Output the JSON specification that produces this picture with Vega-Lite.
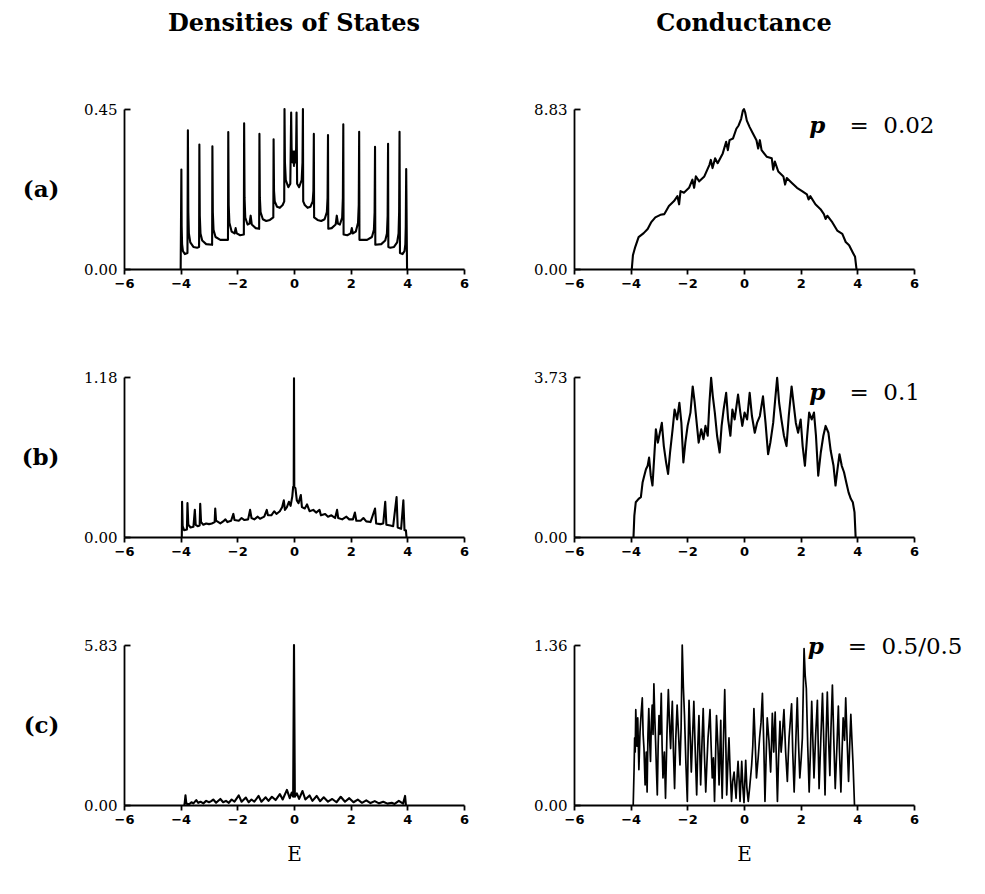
{
  "$schema": "https://vega.github.io/schema/vega-lite/v6.json",
  "background": "white",
  "padding": {"left": 21, "top": 12, "right": 5, "bottom": 5},
  "columns": 2,
  "spacing": {"row": 108, "column": 110},
  "bounds": "flush",
  "datasets": {
    "dosA": [
      {"E":-4.0,"v":0},{"E":-3.975,"v":0.28},{"E":-3.965,"v":0.12},{"E":-3.95,"v":0.07},{"E":-3.92,"v":0.05},{"E":-3.85,"v":0.042},{"E":-3.76,"v":0.045},
      {"E":-3.745,"v":0.39},{"E":-3.73,"v":0.16},{"E":-3.71,"v":0.1},{"E":-3.66,"v":0.075},{"E":-3.55,"v":0.062},{"E":-3.42,"v":0.06},{"E":-3.35,"v":0.062},
      {"E":-3.34,"v":0.35},{"E":-3.325,"v":0.15},{"E":-3.3,"v":0.1},{"E":-3.24,"v":0.08},{"E":-3.1,"v":0.07},{"E":-2.89,"v":0.068},
      {"E":-2.88,"v":0.345},{"E":-2.865,"v":0.16},{"E":-2.84,"v":0.11},{"E":-2.77,"v":0.09},{"E":-2.6,"v":0.082},{"E":-2.33,"v":0.082},
      {"E":-2.32,"v":0.385},{"E":-2.305,"v":0.18},{"E":-2.28,"v":0.13},{"E":-2.2,"v":0.105},{"E":-2.1,"v":0.1},{"E":-2.06,"v":0.115},{"E":-2.02,"v":0.1},{"E":-1.9,"v":0.095},{"E":-1.77,"v":0.097},
      {"E":-1.76,"v":0.41},{"E":-1.745,"v":0.2},{"E":-1.72,"v":0.145},{"E":-1.64,"v":0.125},{"E":-1.57,"v":0.128},{"E":-1.53,"v":0.15},{"E":-1.49,"v":0.125},{"E":-1.35,"v":0.115},{"E":-1.23,"v":0.113},
      {"E":-1.22,"v":0.38},{"E":-1.205,"v":0.2},{"E":-1.18,"v":0.16},{"E":-1.1,"v":0.14},{"E":-0.98,"v":0.135},{"E":-0.85,"v":0.138},{"E":-0.73,"v":0.145},
      {"E":-0.72,"v":0.365},{"E":-0.705,"v":0.22},{"E":-0.68,"v":0.19},{"E":-0.6,"v":0.175},{"E":-0.5,"v":0.172},{"E":-0.4,"v":0.18},{"E":-0.345,"v":0.19},
      {"E":-0.335,"v":0.45},{"E":-0.32,"v":0.3},{"E":-0.29,"v":0.25},{"E":-0.2,"v":0.23},{"E":-0.13,"v":0.24},
      {"E":-0.1,"v":0.44},{"E":-0.085,"v":0.34},{"E":-0.05,"v":0.3},{"E":-0.02,"v":0.33},{"E":0.0,"v":0.29},{"E":0.02,"v":0.33},{"E":0.05,"v":0.3},{"E":0.075,"v":0.34},
      {"E":0.09,"v":0.44},{"E":0.11,"v":0.24},{"E":0.18,"v":0.23},{"E":0.27,"v":0.25},{"E":0.3,"v":0.3},
      {"E":0.315,"v":0.45},{"E":0.325,"v":0.19},{"E":0.38,"v":0.18},{"E":0.48,"v":0.172},{"E":0.58,"v":0.175},{"E":0.66,"v":0.19},{"E":0.685,"v":0.22},
      {"E":0.7,"v":0.38},{"E":0.71,"v":0.145},{"E":0.83,"v":0.138},{"E":0.96,"v":0.135},{"E":1.08,"v":0.14},{"E":1.16,"v":0.16},{"E":1.185,"v":0.2},
      {"E":1.2,"v":0.377},{"E":1.21,"v":0.113},{"E":1.33,"v":0.115},{"E":1.47,"v":0.125},{"E":1.51,"v":0.15},{"E":1.55,"v":0.128},{"E":1.62,"v":0.125},{"E":1.7,"v":0.145},{"E":1.725,"v":0.2},
      {"E":1.74,"v":0.407},{"E":1.75,"v":0.097},{"E":1.88,"v":0.095},{"E":2.0,"v":0.1},{"E":2.04,"v":0.115},{"E":2.08,"v":0.1},{"E":2.18,"v":0.105},{"E":2.26,"v":0.13},{"E":2.285,"v":0.18},
      {"E":2.3,"v":0.386},{"E":2.31,"v":0.082},{"E":2.58,"v":0.082},{"E":2.75,"v":0.09},{"E":2.82,"v":0.11},{"E":2.845,"v":0.16},
      {"E":2.86,"v":0.344},{"E":2.87,"v":0.068},{"E":3.08,"v":0.07},{"E":3.22,"v":0.08},{"E":3.28,"v":0.1},{"E":3.305,"v":0.15},
      {"E":3.32,"v":0.352},{"E":3.33,"v":0.062},{"E":3.4,"v":0.06},{"E":3.53,"v":0.062},{"E":3.64,"v":0.075},{"E":3.69,"v":0.1},{"E":3.71,"v":0.16},
      {"E":3.725,"v":0.386},{"E":3.74,"v":0.045},{"E":3.83,"v":0.042},{"E":3.9,"v":0.05},{"E":3.93,"v":0.07},{"E":3.945,"v":0.12},
      {"E":3.96,"v":0.281},{"E":3.99,"v":0}
    ],
    "dosB": [
      {"E":-3.96,"v":0},{"E":-3.95,"v":0.26},{"E":-3.93,"v":0.08},{"E":-3.88,"v":0.05},{"E":-3.78,"v":0.055},{"E":-3.76,"v":0.25},{"E":-3.73,"v":0.09},{"E":-3.65,"v":0.07},
      {"E":-3.55,"v":0.075},{"E":-3.5,"v":0.2},{"E":-3.47,"v":0.09},{"E":-3.4,"v":0.08},{"E":-3.33,"v":0.085},{"E":-3.31,"v":0.245},{"E":-3.28,"v":0.11},{"E":-3.2,"v":0.09},
      {"E":-3.1,"v":0.1},{"E":-3.0,"v":0.095},{"E":-2.9,"v":0.1},{"E":-2.8,"v":0.11},{"E":-2.78,"v":0.21},{"E":-2.75,"v":0.12},{"E":-2.6,"v":0.1},{"E":-2.5,"v":0.115},
      {"E":-2.42,"v":0.13},{"E":-2.35,"v":0.11},{"E":-2.22,"v":0.12},{"E":-2.14,"v":0.17},{"E":-2.1,"v":0.125},{"E":-1.95,"v":0.12},{"E":-1.85,"v":0.14},{"E":-1.75,"v":0.125},
      {"E":-1.62,"v":0.13},{"E":-1.55,"v":0.2},{"E":-1.5,"v":0.14},{"E":-1.4,"v":0.13},{"E":-1.28,"v":0.15},{"E":-1.2,"v":0.135},{"E":-1.05,"v":0.15},{"E":-0.96,"v":0.2},
      {"E":-0.92,"v":0.16},{"E":-0.8,"v":0.16},{"E":-0.7,"v":0.19},{"E":-0.62,"v":0.17},{"E":-0.5,"v":0.19},{"E":-0.42,"v":0.22},{"E":-0.36,"v":0.27},{"E":-0.32,"v":0.2},
      {"E":-0.25,"v":0.22},{"E":-0.18,"v":0.26},{"E":-0.12,"v":0.23},{"E":-0.06,"v":0.3},{"E":-0.03,"v":0.37},{"E":-0.01,"v":0.37},{"E":0.0,"v":1.17},{"E":0.01,"v":0.37},
      {"E":0.05,"v":0.36},{"E":0.1,"v":0.27},{"E":0.16,"v":0.25},{"E":0.24,"v":0.31},{"E":0.28,"v":0.22},{"E":0.38,"v":0.21},{"E":0.46,"v":0.24},{"E":0.55,"v":0.19},
      {"E":0.68,"v":0.2},{"E":0.78,"v":0.18},{"E":0.9,"v":0.2},{"E":0.95,"v":0.16},{"E":1.1,"v":0.17},{"E":1.2,"v":0.15},{"E":1.32,"v":0.16},{"E":1.45,"v":0.14},
      {"E":1.52,"v":0.2},{"E":1.56,"v":0.14},{"E":1.7,"v":0.13},{"E":1.85,"v":0.15},{"E":1.95,"v":0.13},{"E":2.08,"v":0.13},{"E":2.15,"v":0.18},{"E":2.2,"v":0.12},
      {"E":2.35,"v":0.12},{"E":2.45,"v":0.14},{"E":2.55,"v":0.115},{"E":2.7,"v":0.11},{"E":2.86,"v":0.21},{"E":2.9,"v":0.1},{"E":3.05,"v":0.095},{"E":3.15,"v":0.1},
      {"E":3.22,"v":0.26},{"E":3.26,"v":0.09},{"E":3.4,"v":0.085},{"E":3.5,"v":0.08},{"E":3.62,"v":0.295},{"E":3.66,"v":0.07},{"E":3.78,"v":0.06},{"E":3.86,"v":0.27},
      {"E":3.9,"v":0.05},{"E":3.95,"v":0.05},{"E":3.97,"v":0}
    ],
    "dosC": [
      {"E":-3.88,"v":0},{"E":-3.86,"v":0.05},{"E":-3.83,"v":0.35},{"E":-3.8,"v":0.05},{"E":-3.7,"v":0.03},{"E":-3.62,"v":0.1},{"E":-3.55,"v":0.06},{"E":-3.45,"v":0.18},{"E":-3.38,"v":0.08},
      {"E":-3.3,"v":0.12},{"E":-3.2,"v":0.06},{"E":-3.1,"v":0.15},{"E":-3.0,"v":0.1},{"E":-2.92,"v":0.14},{"E":-2.85,"v":0.2},{"E":-2.75,"v":0.08},{"E":-2.6,"v":0.22},{"E":-2.5,"v":0.1},
      {"E":-2.4,"v":0.15},{"E":-2.3,"v":0.08},{"E":-2.2,"v":0.2},{"E":-2.1,"v":0.12},{"E":-1.95,"v":0.35},{"E":-1.85,"v":0.12},{"E":-1.7,"v":0.27},{"E":-1.6,"v":0.1},
      {"E":-1.5,"v":0.2},{"E":-1.4,"v":0.12},{"E":-1.25,"v":0.33},{"E":-1.15,"v":0.12},{"E":-1.0,"v":0.28},{"E":-0.9,"v":0.15},{"E":-0.78,"v":0.3},{"E":-0.65,"v":0.18},
      {"E":-0.5,"v":0.4},{"E":-0.4,"v":0.2},{"E":-0.25,"v":0.55},{"E":-0.15,"v":0.25},{"E":-0.08,"v":0.45},{"E":-0.03,"v":0.3},{"E":0.0,"v":5.83},{"E":0.03,"v":0.3},
      {"E":0.1,"v":0.42},{"E":0.18,"v":0.22},{"E":0.3,"v":0.51},{"E":0.4,"v":0.2},{"E":0.55,"v":0.35},{"E":0.65,"v":0.15},{"E":0.8,"v":0.33},{"E":0.92,"v":0.14},
      {"E":1.05,"v":0.28},{"E":1.2,"v":0.12},{"E":1.35,"v":0.22},{"E":1.5,"v":0.1},{"E":1.65,"v":0.3},{"E":1.8,"v":0.12},{"E":1.95,"v":0.25},{"E":2.1,"v":0.1},
      {"E":2.25,"v":0.2},{"E":2.4,"v":0.08},{"E":2.55,"v":0.17},{"E":2.7,"v":0.07},{"E":2.85,"v":0.14},{"E":3.0,"v":0.06},{"E":3.15,"v":0.12},{"E":3.3,"v":0.05},
      {"E":3.45,"v":0.08},{"E":3.55,"v":0.04},{"E":3.7,"v":0.15},{"E":3.85,"v":0.05},{"E":3.92,"v":0.33},{"E":3.95,"v":0}
    ],
    "condA": [
      {"E":-3.96,"v":0},{"E":-3.92,"v":0.76},{"E":-3.84,"v":1.21},{"E":-3.72,"v":1.76},{"E":-3.54,"v":1.98},{"E":-3.4,"v":2.21},{"E":-3.28,"v":2.57},{"E":-3.13,"v":2.85},
      {"E":-2.95,"v":2.99},{"E":-2.81,"v":3.03},{"E":-2.65,"v":3.48},{"E":-2.47,"v":3.75},{"E":-2.35,"v":4.02},{"E":-2.29,"v":3.57},{"E":-2.24,"v":4.3},{"E":-2.12,"v":4.21},
      {"E":-1.94,"v":4.48},{"E":-1.82,"v":4.93},{"E":-1.76,"v":4.48},{"E":-1.7,"v":5.11},{"E":-1.58,"v":4.84},{"E":-1.4,"v":5.11},{"E":-1.22,"v":5.75},{"E":-1.17,"v":6.02},
      {"E":-1.11,"v":5.57},{"E":-1.02,"v":6.11},{"E":-0.93,"v":5.84},{"E":-0.75,"v":6.38},{"E":-0.63,"v":7.02},{"E":-0.57,"v":6.56},{"E":-0.51,"v":7.11},{"E":-0.39,"v":7.2},
      {"E":-0.27,"v":7.74},{"E":-0.19,"v":7.92},{"E":-0.1,"v":8.29},{"E":-0.04,"v":8.74},{"E":0.0,"v":8.83},{"E":0.04,"v":8.65},{"E":0.1,"v":8.19},{"E":0.2,"v":7.83},
      {"E":0.32,"v":7.47},{"E":0.44,"v":7.11},{"E":0.5,"v":6.65},{"E":0.56,"v":7.11},{"E":0.62,"v":6.56},{"E":0.8,"v":6.2},{"E":0.98,"v":6.11},{"E":1.03,"v":5.48},
      {"E":1.09,"v":5.93},{"E":1.21,"v":5.38},{"E":1.39,"v":5.11},{"E":1.45,"v":4.66},{"E":1.51,"v":5.02},{"E":1.69,"v":4.75},{"E":1.87,"v":4.48},{"E":2.05,"v":4.3},
      {"E":2.22,"v":4.12},{"E":2.28,"v":3.84},{"E":2.34,"v":4.02},{"E":2.52,"v":3.57},{"E":2.7,"v":3.3},{"E":2.82,"v":3.03},{"E":2.88,"v":2.76},{"E":2.94,"v":2.94},
      {"E":3.12,"v":2.57},{"E":3.29,"v":2.12},{"E":3.47,"v":1.94},{"E":3.59,"v":1.49},{"E":3.71,"v":1.31},{"E":3.83,"v":0.94},{"E":3.92,"v":0.67},{"E":3.97,"v":0}
    ],
    "condB": [
      {"E":-3.9,"v":0},{"E":-3.87,"v":0.5},{"E":-3.82,"v":0.81},{"E":-3.72,"v":0.89},{"E":-3.64,"v":0.93},{"E":-3.58,"v":1.27},{"E":-3.52,"v":1.43},{"E":-3.46,"v":1.58},
      {"E":-3.4,"v":1.66},{"E":-3.35,"v":1.85},{"E":-3.29,"v":1.43},{"E":-3.23,"v":1.2},{"E":-3.17,"v":1.85},{"E":-3.11,"v":2.51},{"E":-3.04,"v":2.2},{"E":-2.97,"v":2.43},
      {"E":-2.9,"v":2.66},{"E":-2.83,"v":2.12},{"E":-2.75,"v":1.74},{"E":-2.68,"v":1.47},{"E":-2.61,"v":1.97},{"E":-2.52,"v":2.51},{"E":-2.45,"v":2.97},{"E":-2.36,"v":2.74},
      {"E":-2.28,"v":3.13},{"E":-2.21,"v":2.66},{"E":-2.14,"v":1.74},{"E":-2.07,"v":2.2},{"E":-1.99,"v":2.59},{"E":-1.89,"v":2.9},{"E":-1.81,"v":3.51},{"E":-1.74,"v":3.13},
      {"E":-1.67,"v":2.66},{"E":-1.6,"v":2.2},{"E":-1.51,"v":2.51},{"E":-1.43,"v":2.28},{"E":-1.36,"v":2.59},{"E":-1.28,"v":2.36},{"E":-1.22,"v":3.13},{"E":-1.16,"v":3.71},
      {"E":-1.1,"v":3.28},{"E":-1.03,"v":2.9},{"E":-0.95,"v":2.36},{"E":-0.86,"v":1.97},{"E":-0.79,"v":2.59},{"E":-0.72,"v":2.97},{"E":-0.63,"v":3.36},{"E":-0.56,"v":2.74},
      {"E":-0.48,"v":2.36},{"E":-0.41,"v":2.97},{"E":-0.33,"v":2.74},{"E":-0.21,"v":3.32},{"E":-0.13,"v":2.9},{"E":-0.06,"v":2.59},{"E":0.02,"v":2.9},{"E":0.11,"v":2.74},
      {"E":0.2,"v":3.36},{"E":0.28,"v":2.82},{"E":0.38,"v":2.43},{"E":0.46,"v":2.66},{"E":0.56,"v":2.82},{"E":0.67,"v":3.28},{"E":0.76,"v":2.66},{"E":0.85,"v":1.93},
      {"E":0.93,"v":2.2},{"E":1.03,"v":2.66},{"E":1.1,"v":3.2},{"E":1.17,"v":3.71},{"E":1.24,"v":3.13},{"E":1.32,"v":2.74},{"E":1.41,"v":2.36},{"E":1.5,"v":2.12},
      {"E":1.58,"v":2.82},{"E":1.68,"v":3.51},{"E":1.76,"v":3.05},{"E":1.83,"v":2.66},{"E":1.91,"v":2.43},{"E":2.0,"v":2.74},{"E":2.07,"v":2.12},{"E":2.15,"v":1.66},
      {"E":2.23,"v":2.36},{"E":2.3,"v":2.9},{"E":2.39,"v":2.74},{"E":2.47,"v":2.9},{"E":2.54,"v":2.36},{"E":2.62,"v":1.43},{"E":2.71,"v":1.97},{"E":2.8,"v":2.36},
      {"E":2.88,"v":2.59},{"E":2.98,"v":2.43},{"E":3.06,"v":2.01},{"E":3.16,"v":1.66},{"E":3.23,"v":1.2},{"E":3.3,"v":1.58},{"E":3.37,"v":1.93},{"E":3.45,"v":1.66},
      {"E":3.53,"v":1.51},{"E":3.61,"v":1.27},{"E":3.69,"v":1.04},{"E":3.77,"v":0.89},{"E":3.84,"v":0.81},{"E":3.9,"v":0.58},{"E":3.94,"v":0}
    ],
    "condC": [
      {"E":-3.91,"v":0},{"E":-3.88,"v":0.3},{"E":-3.86,"v":0.57},{"E":-3.84,"v":0.45},{"E":-3.82,"v":0.81},{"E":-3.78,"v":0.5},{"E":-3.75,"v":0.74},{"E":-3.71,"v":0.3},
      {"E":-3.67,"v":0.62},{"E":-3.63,"v":0.78},{"E":-3.59,"v":0.91},{"E":-3.56,"v":0.6},{"E":-3.53,"v":0.48},{"E":-3.49,"v":0.17},{"E":-3.45,"v":0.45},{"E":-3.42,"v":0.11},
      {"E":-3.39,"v":0.6},{"E":-3.36,"v":0.82},{"E":-3.33,"v":0.55},{"E":-3.3,"v":0.37},{"E":-3.27,"v":0.7},{"E":-3.24,"v":0.85},{"E":-3.21,"v":0.6},{"E":-3.18,"v":1.03},
      {"E":-3.15,"v":0.75},{"E":-3.12,"v":0.54},{"E":-3.09,"v":0.3},{"E":-3.06,"v":0.085},{"E":-3.03,"v":0.5},{"E":-3.0,"v":0.76},{"E":-2.96,"v":0.6},{"E":-2.92,"v":0.95},
      {"E":-2.89,"v":0.5},{"E":-2.86,"v":0.23},{"E":-2.81,"v":0.45},{"E":-2.77,"v":0.057},{"E":-2.72,"v":0.6},{"E":-2.67,"v":0.98},{"E":-2.63,"v":0.7},{"E":-2.59,"v":0.48},
      {"E":-2.56,"v":0.7},{"E":-2.53,"v":0.88},{"E":-2.49,"v":0.45},{"E":-2.45,"v":0.14},{"E":-2.41,"v":0.55},{"E":-2.36,"v":0.85},{"E":-2.31,"v":0.6},{"E":-2.26,"v":0.34},
      {"E":-2.22,"v":0.65},{"E":-2.18,"v":1.36},{"E":-2.14,"v":1.0},{"E":-2.1,"v":0.76},{"E":-2.05,"v":0.35},{"E":-2.0,"v":0.03},{"E":-1.97,"v":0.5},{"E":-1.94,"v":0.89},
      {"E":-1.9,"v":0.6},{"E":-1.86,"v":0.28},{"E":-1.82,"v":0.55},{"E":-1.77,"v":0.88},{"E":-1.72,"v":0.45},{"E":-1.67,"v":0.085},{"E":-1.63,"v":0.5},{"E":-1.59,"v":0.76},
      {"E":-1.56,"v":0.45},{"E":-1.53,"v":0.17},{"E":-1.48,"v":0.55},{"E":-1.44,"v":0.82},{"E":-1.4,"v":0.45},{"E":-1.35,"v":0.11},{"E":-1.31,"v":0.35},{"E":-1.27,"v":0.57},
      {"E":-1.23,"v":0.7},{"E":-1.2,"v":0.81},{"E":-1.16,"v":0.5},{"E":-1.12,"v":0.23},{"E":-1.08,"v":0.4},{"E":-1.04,"v":0.03},{"E":-1.0,"v":0.45},{"E":-0.97,"v":0.76},
      {"E":-0.92,"v":0.5},{"E":-0.88,"v":0.17},{"E":-0.85,"v":0.45},{"E":-0.82,"v":0.72},{"E":-0.8,"v":0.35},{"E":-0.77,"v":0.057},{"E":-0.72,"v":0.6},{"E":-0.68,"v":0.98},
      {"E":-0.64,"v":0.5},{"E":-0.61,"v":0.085},{"E":-0.57,"v":0.35},{"E":-0.53,"v":0.57},{"E":-0.49,"v":0.3},{"E":-0.44,"v":0.03},{"E":-0.4,"v":0.2},{"E":-0.35,"v":0.28},
      {"E":-0.31,"v":0.15},{"E":-0.28,"v":0.057},{"E":-0.24,"v":0.25},{"E":-0.21,"v":0.37},{"E":-0.17,"v":0.2},{"E":-0.14,"v":0.03},{"E":-0.11,"v":0.2},{"E":-0.08,"v":0.37},
      {"E":-0.04,"v":0.15},{"E":0.0,"v":0.02},{"E":0.03,"v":0.2},{"E":0.06,"v":0.38},{"E":0.1,"v":0.15},{"E":0.15,"v":0.03},{"E":0.2,"v":0.15},{"E":0.27,"v":0.34},
      {"E":0.31,"v":0.5},{"E":0.35,"v":0.82},{"E":0.4,"v":0.5},{"E":0.44,"v":0.23},{"E":0.5,"v":0.4},{"E":0.55,"v":0.57},{"E":0.6,"v":0.7},{"E":0.65,"v":0.95},
      {"E":0.7,"v":0.5},{"E":0.74,"v":0.03},{"E":0.78,"v":0.4},{"E":0.82,"v":0.74},{"E":0.88,"v":0.55},{"E":0.94,"v":0.28},{"E":0.97,"v":0.5},{"E":1.0,"v":0.78},
      {"E":1.05,"v":0.45},{"E":1.1,"v":0.79},{"E":1.14,"v":0.4},{"E":1.18,"v":0.03},{"E":1.22,"v":0.4},{"E":1.27,"v":0.71},{"E":1.31,"v":0.45},{"E":1.35,"v":0.57},
      {"E":1.38,"v":0.7},{"E":1.41,"v":0.81},{"E":1.47,"v":0.45},{"E":1.53,"v":0.2},{"E":1.56,"v":0.4},{"E":1.59,"v":0.57},{"E":1.63,"v":0.7},{"E":1.68,"v":0.86},
      {"E":1.72,"v":0.45},{"E":1.77,"v":0.11},{"E":1.83,"v":0.55},{"E":1.88,"v":0.91},{"E":1.92,"v":0.55},{"E":1.97,"v":0.23},{"E":2.02,"v":0.4},{"E":2.06,"v":0.57},
      {"E":2.12,"v":1.33},{"E":2.16,"v":1.1},{"E":2.2,"v":0.99},{"E":2.25,"v":0.5},{"E":2.3,"v":0.11},{"E":2.35,"v":0.5},{"E":2.39,"v":0.88},{"E":2.43,"v":0.55},
      {"E":2.47,"v":0.23},{"E":2.53,"v":0.6},{"E":2.59,"v":0.89},{"E":2.62,"v":0.5},{"E":2.65,"v":0.14},{"E":2.71,"v":0.55},{"E":2.77,"v":0.95},{"E":2.82,"v":0.5},
      {"E":2.86,"v":0.085},{"E":2.9,"v":0.6},{"E":2.94,"v":0.96},{"E":2.98,"v":0.6},{"E":3.03,"v":0.25},{"E":3.07,"v":0.65},{"E":3.12,"v":1.02},{"E":3.17,"v":0.55},
      {"E":3.22,"v":0.14},{"E":3.28,"v":0.5},{"E":3.33,"v":0.84},{"E":3.37,"v":0.45},{"E":3.42,"v":0.11},{"E":3.46,"v":0.45},{"E":3.5,"v":0.74},{"E":3.55,"v":0.55},
      {"E":3.59,"v":0.91},{"E":3.64,"v":0.55},{"E":3.69,"v":0.2},{"E":3.73,"v":0.5},{"E":3.77,"v":0.77},{"E":3.81,"v":0.55},{"E":3.85,"v":0.34},{"E":3.9,"v":0}
    ]
  },
  "concat": [
    {
      "width": 340, "height": 160,
      "title": {"text": "Densities of States"},
      "data": {"name": "dosA"},
      "mark": {"type": "line", "color": "black", "strokeWidth": 2.1, "strokeJoin": "round"},
      "encoding": {
        "x": {"field": "E", "type": "quantitative", "scale": {"domain": [-6, 6], "nice": false, "zero": false}, "axis": {"values": [-6, -4, -2, 0, 2, 4, 6], "title": null}},
        "y": {"field": "v", "type": "quantitative", "scale": {"domain": [0, 0.45], "nice": false}, "axis": {"values": [0, 0.45], "format": ".2f", "title": "(a)", "titleAngle": 0, "titleAlign": "right", "titleBaseline": "middle", "titleX": -65, "titleY": 80}}
      }
    },
    {
      "width": 340, "height": 160,
      "title": {"text": "Conductance"},
      "layer": [
        {
          "data": {"name": "condA"},
          "mark": {"type": "line", "color": "black", "strokeWidth": 2.1, "strokeJoin": "round"},
          "encoding": {
            "x": {"field": "E", "type": "quantitative", "scale": {"domain": [-6, 6], "nice": false, "zero": false}, "axis": {"values": [-6, -4, -2, 0, 2, 4, 6], "title": null}},
            "y": {"field": "v", "type": "quantitative", "scale": {"domain": [0, 8.83], "nice": false}, "axis": {"values": [0, 8.83], "format": ".2f", "title": null}}
          }
        },
        {
          "data": {"values": [{"label": "p"}]},
          "mark": {"type": "text", "font": "DejaVu Serif", "fontStyle": "italic", "fontWeight": "bold", "fontSize": 23, "align": "left", "baseline": "middle", "color": "black"},
          "encoding": {"x": {"datum": 2.3}, "y": {"datum": 7.89}, "text": {"field": "label"}}
        },
        {
          "data": {"values": [{"label": "=\u00a0\u00a00.02"}]},
          "mark": {"type": "text", "font": "DejaVu Serif", "fontSize": 23, "align": "left", "baseline": "middle", "color": "black"},
          "encoding": {"x": {"datum": 3.72}, "y": {"datum": 7.89}, "text": {"field": "label"}}
        }
      ]
    },
    {
      "width": 340, "height": 160,
      "data": {"name": "dosB"},
      "mark": {"type": "line", "color": "black", "strokeWidth": 2.1, "strokeJoin": "round"},
      "encoding": {
        "x": {"field": "E", "type": "quantitative", "scale": {"domain": [-6, 6], "nice": false, "zero": false}, "axis": {"values": [-6, -4, -2, 0, 2, 4, 6], "title": null}},
        "y": {"field": "v", "type": "quantitative", "scale": {"domain": [0, 1.18], "nice": false}, "axis": {"values": [0, 1.18], "format": ".2f", "title": "(b)", "titleAngle": 0, "titleAlign": "right", "titleBaseline": "middle", "titleX": -65, "titleY": 80}}
      }
    },
    {
      "width": 340, "height": 160,
      "layer": [
        {
          "data": {"name": "condB"},
          "mark": {"type": "line", "color": "black", "strokeWidth": 2.1, "strokeJoin": "round"},
          "encoding": {
            "x": {"field": "E", "type": "quantitative", "scale": {"domain": [-6, 6], "nice": false, "zero": false}, "axis": {"values": [-6, -4, -2, 0, 2, 4, 6], "title": null}},
            "y": {"field": "v", "type": "quantitative", "scale": {"domain": [0, 3.73], "nice": false}, "axis": {"values": [0, 3.73], "format": ".2f", "title": null}}
          }
        },
        {
          "data": {"values": [{"label": "p"}]},
          "mark": {"type": "text", "font": "DejaVu Serif", "fontStyle": "italic", "fontWeight": "bold", "fontSize": 23, "align": "left", "baseline": "middle", "color": "black"},
          "encoding": {"x": {"datum": 2.3}, "y": {"datum": 3.36}, "text": {"field": "label"}}
        },
        {
          "data": {"values": [{"label": "=\u00a0\u00a00.1"}]},
          "mark": {"type": "text", "font": "DejaVu Serif", "fontSize": 23, "align": "left", "baseline": "middle", "color": "black"},
          "encoding": {"x": {"datum": 3.72}, "y": {"datum": 3.36}, "text": {"field": "label"}}
        }
      ]
    },
    {
      "width": 340, "height": 160,
      "data": {"name": "dosC"},
      "mark": {"type": "line", "color": "black", "strokeWidth": 2.1, "strokeJoin": "round"},
      "encoding": {
        "x": {"field": "E", "type": "quantitative", "scale": {"domain": [-6, 6], "nice": false, "zero": false}, "axis": {"values": [-6, -4, -2, 0, 2, 4, 6], "title": "E"}},
        "y": {"field": "v", "type": "quantitative", "scale": {"domain": [0, 5.83], "nice": false}, "axis": {"values": [0, 5.83], "format": ".2f", "title": "(c)", "titleAngle": 0, "titleAlign": "right", "titleBaseline": "middle", "titleX": -65, "titleY": 80}}
      }
    },
    {
      "width": 340, "height": 160,
      "layer": [
        {
          "data": {"name": "condC"},
          "mark": {"type": "line", "color": "black", "strokeWidth": 1.7, "strokeJoin": "round"},
          "encoding": {
            "x": {"field": "E", "type": "quantitative", "scale": {"domain": [-6, 6], "nice": false, "zero": false}, "axis": {"values": [-6, -4, -2, 0, 2, 4, 6], "title": "E"}},
            "y": {"field": "v", "type": "quantitative", "scale": {"domain": [0, 1.36], "nice": false}, "axis": {"values": [0, 1.36], "format": ".2f", "title": null}}
          }
        },
        {
          "data": {"values": [{"label": "p"}]},
          "mark": {"type": "text", "font": "DejaVu Serif", "fontStyle": "italic", "fontWeight": "bold", "fontSize": 23, "align": "left", "baseline": "middle", "color": "black"},
          "encoding": {"x": {"datum": 2.25}, "y": {"datum": 1.343}, "text": {"field": "label"}}
        },
        {
          "data": {"values": [{"label": "=\u00a0\u00a00.5/0.5"}]},
          "mark": {"type": "text", "font": "DejaVu Serif", "fontSize": 23, "align": "left", "baseline": "middle", "color": "black"},
          "encoding": {"x": {"datum": 3.66}, "y": {"datum": 1.343}, "text": {"field": "label"}}
        }
      ]
    }
  ],
  "config": {
    "view": {"stroke": null},
    "axis": {"grid": false, "domainColor": "black", "domainWidth": 1.8, "tickColor": "black", "tickWidth": 1.8, "labelColor": "black", "titleColor": "black"},
    "axisX": {"labelFont": "DejaVu Sans", "labelFontWeight": "bold", "labelFontSize": 13, "tickSize": 5, "labelPadding": 3, "labelFlush": false, "labelOverlap": false, "titleFont": "DejaVu Serif", "titleFontSize": 20, "titleFontWeight": "normal", "titlePadding": 18},
    "axisY": {"labelFont": "DejaVu Serif", "labelFontSize": 15, "tickSize": -6, "labelPadding": 13, "labelOverlap": false, "titleFont": "DejaVu Serif", "titleFontSize": 23, "titleFontWeight": "bold"},
    "title": {"font": "DejaVu Serif", "fontSize": 24, "fontWeight": "bold", "color": "black", "offset": 66, "baseline": "bottom"}
  }
}
